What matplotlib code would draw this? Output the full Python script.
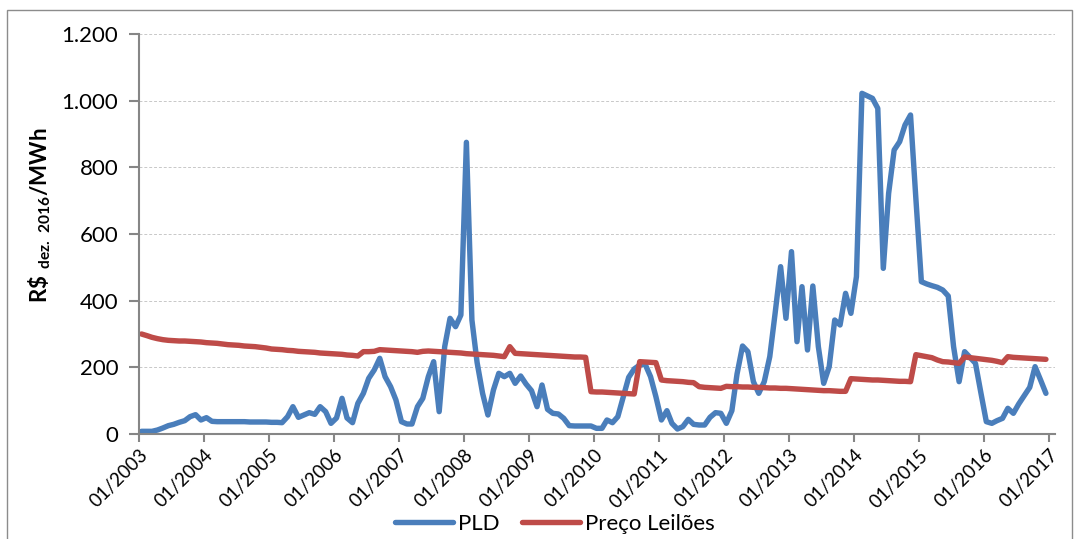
import numpy as np
import pandas as pd
import matplotlib
matplotlib.use('Agg')
import matplotlib.pyplot as plt
import matplotlib.dates as mdates
from matplotlib.patches import Rectangle

plt.rcParams['font.family'] = ['Lato', 'DejaVu Sans']
plt.rcParams['mathtext.fontset'] = 'custom'
plt.rcParams['mathtext.rm'] = 'Lato'
plt.rcParams['mathtext.bf'] = 'Lato:bold'

# meses de 01/2003 a 12/2016 (pontos no meio do mes)
meses = pd.date_range('2003-01-01', periods=168, freq='MS') + pd.Timedelta(days=14)

# PLD mensal, R$ dez. 2016/MWh
pld = [8, 8, 8, 12, 18, 25, 29, 35, 40, 52, 58, 42,
       49, 38, 37, 37, 37, 37, 37, 37, 36, 36, 36, 36,
       35, 35, 34, 52, 82, 50, 57, 64, 59, 82, 67, 32,
       48, 107, 48, 34, 92, 122, 167, 192, 227, 172, 142, 102,
       37, 30, 30, 82, 107, 172, 217, 67, 262, 347, 322, 357,
       875, 342, 215, 122, 57, 132, 182, 172, 182, 152, 174, 150,
       130, 82, 147, 74, 62, 60, 47, 25, 24, 24, 24, 24,
       17, 17, 42, 34, 52, 112, 170, 195, 207, 210, 172, 112,
       42, 70, 32, 15, 22, 44, 29, 27, 27, 50, 64, 62,
       32, 70, 180, 264, 247, 157, 122, 157, 232, 362, 502, 347,
       547, 277, 442, 252, 444, 262, 152, 202, 342, 327, 422, 362,
       472, 1022, 1015, 1007, 977, 497, 722, 852, 877, 927, 957, 707,
       457, 450, 445, 440, 432, 414, 262, 157, 247, 230, 212, 125,
       37, 32, 40, 47, 77, 62, 90, 115, 140, 202, 162, 122]

# preco medio dos leiloes
leiloes = [300, 295, 290, 286, 283, 281, 280, 279, 279, 278, 277, 276,
           274, 273, 272, 270, 268, 267, 266, 264, 263, 262, 260, 258,
           255, 254, 253, 251, 250, 248, 247, 246, 245, 243, 242, 241,
           240, 239, 237, 236, 234, 247, 247, 248, 253, 252, 251, 250,
           249, 248, 247, 245, 248, 249, 248, 247, 246, 245, 244, 243,
           241, 240, 239, 238, 237, 236, 234, 232, 262, 242, 241, 240,
           239, 238, 237, 236, 235, 234, 233, 232, 231, 231, 230, 127,
           126, 126, 125, 124, 123, 122, 121, 120, 217, 216, 215, 214,
           162, 160, 159, 158, 157, 155, 154, 142, 140, 139, 138, 137,
           143, 142, 142, 141, 141, 140, 140, 139, 138, 138, 137, 137,
           136, 135, 134, 133, 132, 131, 130, 130, 129, 128, 128, 166,
           165, 164, 163, 162, 162, 161, 160, 159, 158, 158, 157, 238,
           235, 232, 229, 222, 217, 216, 214, 212, 231, 229, 227, 225,
           223, 221, 218, 214, 232, 230, 229, 228, 227, 226, 225, 224]

yticks = [0, 200, 400, 600, 800, 1000, 1200]
ytick_labels = ['0', '200', '400', '600', '800', '1.000', '1.200']

W, H = 1082, 539
fig = plt.figure(figsize=(W / 100, H / 100), dpi=100)
ax = fig.add_axes([139 / W, 1 - 434 / H, (1055 - 139) / W, 400 / H])

azul = '#4a7ebb'
verm = '#be4b48'
ax.plot(meses, pld, color=azul, lw=3.9, solid_joinstyle='round', solid_capstyle='round', label='PLD')
ax.plot(meses, leiloes, color=verm, lw=3.9, solid_joinstyle='round', solid_capstyle='round', label='Preço Leilões')

ax.set_ylim(0, 1200)
ax.set_yticks(yticks)
ax.set_yticklabels(ytick_labels)
ax.set_xlim(pd.Timestamp('2003-01-01'), pd.Timestamp('2017-02-04'))
ax.xaxis.set_major_locator(mdates.YearLocator())
ax.xaxis.set_major_formatter(mdates.DateFormatter('%m/%Y'))

ax.grid(axis='y', color='#c8c8c8', ls=(0, (3, 2)), lw=0.7)
ax.set_axisbelow(True)
for s in ['top', 'right']:
    ax.spines[s].set_visible(False)
for s in ['left', 'bottom']:
    ax.spines[s].set_color('#868686')
    ax.spines[s].set_linewidth(1.5)
ax.tick_params(axis='y', colors='#868686', labelcolor='black', labelsize=16, length=7, width=1.5, pad=8)
ax.tick_params(axis='x', colors='#868686', labelcolor='black', labelsize=13.5, length=6, width=1.5, pad=3)
plt.setp(ax.get_xticklabels(), rotation=45, ha='right', va='top', rotation_mode='anchor')

fig.text(40 / W, 1 - 215 / H, r'$\mathbf{R\$\ _{dez.\ 2016}/MWh}$', rotation=90,
         ha='center', va='center', fontsize=16)

fig.legend(loc='center', bbox_to_anchor=(555 / W, 1 - 524 / H), ncol=2, frameon=False,
           fontsize=16, handlelength=2.6, handletextpad=0.25, columnspacing=1.0,
           borderaxespad=0, borderpad=0)

fig.patches.append(Rectangle((7 / W, -0.02), (1072 - 7) / W, 1 + 0.02 - 10 / H,
                             transform=fig.transFigure, fill=False, ec='#8c8c8c', lw=1))

fig.savefig('out.png', dpi=100)
